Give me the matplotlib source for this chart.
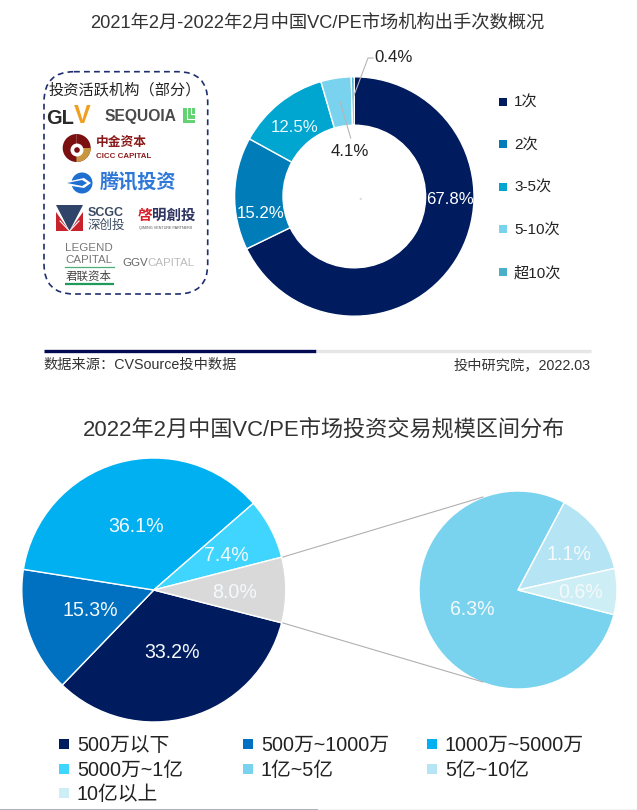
import matplotlib
matplotlib.use('Agg')
import matplotlib.pyplot as plt
from matplotlib.lines import Line2D
from matplotlib.patches import FancyBboxPatch, Circle, Wedge, Polygon, Rectangle

plt.rcParams['font.family'] = ['Liberation Sans', 'Noto Sans CJK SC', 'DejaVu Sans']

W, H = 637, 810

# ---- data ----
title_top = '2021年2月-2022年2月中国VC/PE市场机构出手次数概况'
title_bottom = '2022年2月中国VC/PE市场投资交易规模区间分布'
source_left = '数据来源：CVSource投中数据'
source_right = '投中研究院，2022.03'
logo_header = '投资活跃机构（部分）'

donut_labels = ['1次', '2次', '3-5次', '5-10次', '超10次']
donut_values = [67.8, 15.2, 12.5, 4.1, 0.4]
donut_colors = ['#001B5E', '#007DB8', '#00A6D0', '#7AD3EE', '#4BAFCB']

main_labels = ['500万以下', '500万~1000万', '1000万~5000万', '5000万~1亿', '其他']
main_values = [33.2, 15.3, 36.1, 7.4, 8.0]
main_colors = ['#001B5E', '#0070C0', '#00B0F0', '#40D5FF', '#D9D9D9']

detail_labels = ['1亿~5亿', '5亿~10亿', '10亿以上']
detail_values = [6.3, 1.1, 0.6]
detail_colors = ['#7AD3EE', '#B5E5F4', '#CDEEF4']

fig = plt.figure(figsize=(W / 100, H / 100), dpi=100, facecolor='white')


def pie_axes(cx, cy, r):
    a = fig.add_axes([(cx - r) / W, 1 - (cy + r) / H, 2 * r / W, 2 * r / H])
    return a


def finish(a):
    a.set_xlim(-1, 1)
    a.set_ylim(-1, 1)
    a.set_axis_off()


# ---- pies ----
ax_d = pie_axes(354.3, 196.5, 119.7)
ax_d.pie(donut_values, colors=donut_colors, startangle=90, counterclock=False, radius=1,
         wedgeprops=dict(width=1 - 71.3 / 119.7, edgecolor='white', linewidth=1))
finish(ax_d)

ax_m = pie_axes(153.8, 590, 132)
ax_m.pie(main_values, colors=main_colors, startangle=-14.4, counterclock=False, radius=1,
         wedgeprops=dict(edgecolor='white', linewidth=1))
finish(ax_m)

ax_s = pie_axes(518, 590, 99)
ax_s.pie(detail_values, colors=detail_colors, startangle=-14.4, counterclock=False, radius=1,
         wedgeprops=dict(edgecolor='white', linewidth=1))
finish(ax_s)

# ---- pixel overlay ----
ov = fig.add_axes([0, 0, 1, 1], zorder=5)
ov.set_xlim(0, W)
ov.set_ylim(H, 0)
ov.set_axis_off()
ov.patch.set_alpha(0)


def T(x, y, s, px, color='#222222', ha='center', va='center', **kw):
    return ov.text(x, y, s, fontsize=px * 0.72, color=color, ha=ha, va=va, **kw)


def pct(v):
    return f'{v:.1f}%'


# titles and source
T(317.5, 24, title_top, 18.3, '#333333')
T(324, 429.5, title_bottom, 22.2, '#333333')
ov.plot([44, 316], [350.5, 350.5], color='#020B52', lw=2.4, solid_capstyle='butt')
ov.plot([316, 591], [350.5, 350.5], color='#E6E6E6', lw=2.4, solid_capstyle='butt')
T(43, 365, source_left, 14.2, '#333333', ha='left')
T(591, 365, source_right, 14.2, '#333333', ha='right')
ov.plot([0, 318], [809.5, 809.5], color='#A09FB0', lw=1.2, solid_capstyle='butt')
ov.plot([318, 637], [809.5, 809.5], color='#F2F2F2', lw=1.2, solid_capstyle='butt')

# donut labels and leaders
T(450, 199, pct(donut_values[0]), 16.8, 'white')
T(260.7, 213, pct(donut_values[1]), 16.8, 'white')
T(294.7, 127.7, pct(donut_values[2]), 16.8, '#E8F8FC')
T(350, 151.7, pct(donut_values[3]), 16.8, '#222222')
T(394, 58, pct(donut_values[4]), 16.8, '#222222')
ov.plot([340, 350.7], [101.7, 138], color='#B5B5B5', lw=0.8)
ov.plot([353, 368, 373], [98, 58, 58], color='#B5B5B5', lw=0.8)
ov.add_patch(Circle((360.7, 199), 1.2, color='#DDDDDD', lw=0))

# main pie labels
for (x, y), v in zip([(171.7, 652.7), (90.7, 610.7), (135.7, 526), (226.7, 555.7), (235, 593)], main_values):
    T(x, y, pct(v), 19.6, '#F4F9FC')
for (x, y), v in zip([(472.7, 609.3), (568.7, 554), (580.7, 592)], detail_values):
    T(x, y, pct(v), 19.6, '#F4F9FC')

# connector lines
ov.plot([283, 483], [557, 497], color='#B0B0B0', lw=0.8)
ov.plot([283, 483], [623, 682], color='#B0B0B0', lw=0.8)


# legends
def make_legend(labels, colors, x, ytop, px, msize, gap, rowstep):
    handles = [Line2D([], [], marker='s', ls='', ms=msize * 0.72, color=c, mew=0) for c in colors]
    fs = px * 0.72
    lg = fig.legend(handles, labels, loc='upper left',
                    bbox_to_anchor=(x / W, 1 - ytop / H), bbox_transform=fig.transFigure,
                    frameon=False, fontsize=fs, borderpad=0, borderaxespad=0,
                    handlelength=msize / px, handletextpad=gap / px,
                    labelspacing=(rowstep - px) / px, numpoints=1, labelcolor='#222222')
    lg.set_zorder(10)
    return lg


make_legend(donut_labels, donut_colors, 499, 96, 15.2, 8.5, 6.5, 43.7)

all_labels = main_labels[:4] + detail_labels
all_colors = main_colors[:4] + detail_colors
make_legend([all_labels[i] for i in (0, 3, 6)], [all_colors[i] for i in (0, 3, 6)], 59, 736, 19.8, 10.5, 7.5, 25.5)
make_legend([all_labels[i] for i in (1, 4)], [all_colors[i] for i in (1, 4)], 243, 736, 19.8, 10.5, 7.5, 25.5)
make_legend([all_labels[i] for i in (2, 5)], [all_colors[i] for i in (2, 5)], 427, 736, 19.8, 10.5, 7.5, 25.5)

# logo box
ov.add_patch(FancyBboxPatch((44 + 30, 71.7 + 30), 163.7 - 60, 222.3 - 60,
                            boxstyle='round,pad=30,rounding_size=30', fill=False,
                            edgecolor='#1F2E6E', lw=1.2, ls=(0, (3.5, 2.5))))
T(48.5, 90, logo_header, 15.2, '#222222', ha='left')

# GLV + Sequoia
T(46, 118, 'GL', 20, '#2A2A2A', ha='left', fontweight='bold')
T(74, 116, 'V', 25, '#F0A020', ha='left', fontweight='bold')
T(140, 116, 'SEQUOIA', 15.6, '#4A4A4A', fontweight='bold')
ov.add_patch(Rectangle((183, 108), 12, 15, color='#62D272', lw=0))
ov.plot([187, 187, 195], [108, 119, 119], color='white', lw=0.8)
ov.plot([191, 191, 195], [108, 114, 114], color='white', lw=0.8)

# CICC
ov.add_patch(Wedge((76.7, 148), 14, 90, 270, color='#7A1010', lw=0))
ov.add_patch(Wedge((76.7, 148), 14, -90, 90, color='#7A1010', lw=0))
ov.add_patch(Wedge((76.7, 148), 14, 0, 90, color='#C8963E', lw=0))
ov.add_patch(Circle((77, 150), 6.5, color='white', lw=0))
ov.add_patch(Circle((77, 150), 2.8, color='#7A1010', lw=0))
T(96, 143, '中金资本', 12.7, '#8B1A1A', ha='left', fontweight='bold')
T(96, 156, 'CICC CAPITAL', 7.9, '#8B1A1A', ha='left', fontweight='bold')

# Tencent
ov.add_patch(Circle((82, 183), 10.5, color='#1E6FD0', lw=0))
ov.add_patch(Polygon([(66, 182), (84, 178), (91, 183), (84, 188), (72, 186)], closed=True, color='white', lw=0))
ov.add_patch(Polygon([(67, 183), (82, 180), (87, 183), (82, 186)], closed=True, color='#1E6FD0', lw=0))
T(100, 183, '腾讯投资', 19.2, '#2F78D8', ha='left', fontweight='bold')

# SCGC
ov.add_patch(Polygon([(56, 205), (83, 205), (69.5, 231)], closed=True, color='#2F4468', lw=0))
ov.add_patch(Polygon([(56, 212), (69.5, 231), (83, 212), (83, 231), (56, 231)], closed=True, color='#C8232C', lw=0))
ov.plot([60, 69.5, 79], [221, 231, 221], color='white', lw=0.8)
T(88, 213, 'SCGC', 12.5, '#3A4A60', ha='left', fontweight='bold')
T(88, 225.5, '深创投', 12.5, '#3A4A60', ha='left')

# Qiming
T(137.5, 216, '啓', 14.5, '#D8202A', ha='left', fontweight='bold')
T(152, 216, '明創投', 14.5, '#2E3460', ha='left', fontweight='bold')
T(166, 228, 'QIMING VENTURE PARTNERS', 3.7, '#555555')

# Legend Capital + GGV
T(89, 248, 'LEGEND', 11.5, '#777777')
T(89, 260, 'CAPITAL', 11.5, '#777777')
ov.plot([65, 114], [267, 267], color='#4CAF7A', lw=0.9)
T(89, 276, '君联资本', 11.5, '#444444')
ov.plot([65, 114], [284, 284], color='#1E9A5A', lw=1.6, solid_capstyle='butt')
T(122.7, 263, 'GGV', 11.5, '#666666', ha='left')
T(147, 263, 'CAPITAL', 11.5, '#BBBBBB', ha='left')

fig.savefig('out.png', dpi=100, facecolor='white')
